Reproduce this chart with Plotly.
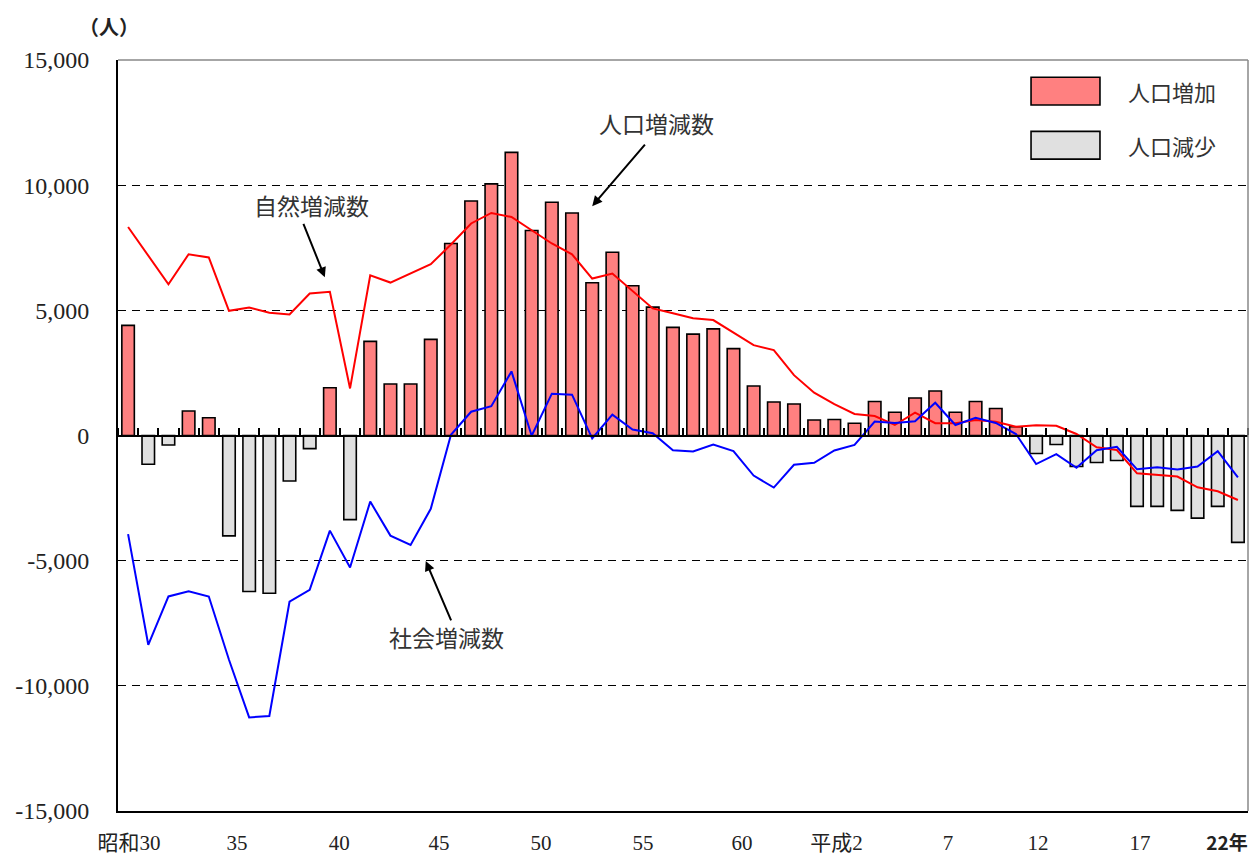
import plotly.graph_objects as go

# Years: Showa 30 (1955) .. Heisei 22 (2010), one value per year
years = list(range(1955, 2011))

pop_change = [4400, -1150, -380, 980, 710, -4010, -6230, -6300, -1815, -525,
              1910, -3360, 3760, 2055, 2055, 3840, 7670, 9370, 10050, 11310,
              8190, 9320, 8890, 6100, 7320, 5980, 5130, 4320, 4050, 4260,
              3470, 1975, 1340, 1260, 620, 640, 490, 1360, 930, 1500,
              1780, 930, 1360, 1080, 350, -720, -360, -1240, -1080, -1000,
              -2830, -2830, -2990, -3300, -2830, -4270]

natural_change = [8330, 7200, 6040, 7240, 7110, 4980, 5115, 4900, 4835, 5670,
                  5740, 1880, 6400, 6110, 6470, 6840, 7630, 8470, 8890, 8730,
                  8200, 7670, 7240, 6270, 6470, 5780, 5075, 4880, 4680, 4610,
                  4100, 3610, 3410, 2410, 1710, 1250, 860, 780, 420, 910,
                  490, 490, 620, 550, 350, 410, 390, 60, -470, -580,
                  -1510, -1590, -1640, -2070, -2230, -2575]

social_change = [-3940, -8360, -6430, -6220, -6430, -8960, -11260, -11205, -6640, -6165,
                 -3800, -5270, -2640, -4000, -4370, -2930, 30, 950, 1170, 2560,
                 -10, 1670, 1630, -120, 830, 240, 90, -590, -640, -360,
                 -620, -1600, -2080, -1170, -1090, -600, -375, 560, 500, 570,
                 1310, 420, 710, 500, 60, -1140, -745, -1290, -590, -450,
                 -1350, -1270, -1355, -1240, -625, -1670]

xtick_text = ["昭和30", "35", "40", "45", "50", "55", "60", "平成2", "7", "12", "17",
              "<span style='font-family:Noto Sans CJK JP;font-size:19px'><b>22年</b></span>"]
# label anchor positions along the category axis (as placed in the original)
xtick_pos = [0.05, 5.40, 10.46, 15.41, 20.46, 25.52, 30.43, 35.11, 40.63, 45.09, 50.15, 54.46]

ytick_vals = [-15000, -10000, -5000, 0, 5000, 10000, 15000]
ytick_text = ["-15,000", "-10,000", "-5,000", "0", "5,000", "10,000", "15,000"]

x = list(range(len(years)))
bar_colors = ["#FF8080" if v >= 0 else "#E0E0E0" for v in pop_change]

FONT = "Liberation Serif, Noto Sans CJK JP, serif"
JFONT = "Noto Sans CJK JP, sans-serif"

fig = go.Figure()
fig.add_trace(go.Bar(
    x=x, y=pop_change, width=0.62,
    marker=dict(color=bar_colors, line=dict(color="black", width=1.6)),
    name="人口増減数", showlegend=False,
))
fig.add_trace(go.Scatter(
    x=x, y=natural_change, mode="lines",
    line=dict(color="#FF0000", width=2), name="自然増減数", showlegend=False,
))
fig.add_trace(go.Scatter(
    x=x, y=social_change, mode="lines",
    line=dict(color="#0000FF", width=2), name="社会増減数", showlegend=False,
))
# invisible trace to carry the zero-line axis with boundary ticks
fig.add_trace(go.Scatter(
    x=[x[0]], y=[0], xaxis="x2", mode="markers",
    marker=dict(opacity=0), showlegend=False, hoverinfo="skip",
))

boundaries = [i - 0.5 for i in range(len(years) + 1)]

fig.update_layout(
    width=1250, height=854,
    margin=dict(l=118, r=2, t=60, b=43, autoexpand=False),
    plot_bgcolor="white", paper_bgcolor="white",
    font=dict(family=FONT, size=21, color="black"),
    xaxis=dict(
        range=[-0.5, len(years) - 0.5],
        tickmode="array", tickvals=xtick_pos, ticktext=xtick_text,
        ticks="", showgrid=False, zeroline=False, automargin=False,
        showline=True, linecolor="black", linewidth=2, mirror=False,
        ticklabelstandoff=12, ticklabeloverflow="allow",
        tickfont=dict(size=21, family=FONT, color="#222222"),
    ),
    xaxis2=dict(
        range=[-0.5, len(years) - 0.5], overlaying="x",
        anchor="free", position=0.5, side="top",
        tickmode="array", tickvals=boundaries,
        ticks="outside", ticklen=7, tickwidth=1.5, tickcolor="black",
        showticklabels=False, showgrid=False, zeroline=False,
        showline=True, linecolor="black", linewidth=2, automargin=False,
    ),
    yaxis=dict(
        range=[-15000, 15000],
        tickmode="array", tickvals=ytick_vals, ticktext=ytick_text,
        ticks="", showgrid=True, gridcolor="black", gridwidth=1,
        griddash="8px,6px", zeroline=False, automargin=False,
        showline=True, linecolor="black", linewidth=2, mirror=False,
        ticklabelstandoff=22,
        tickfont=dict(size=24, family=FONT, color="#222222"),
    ),
)

# top and right frame (thin grey)
fig.add_shape(type="line", xref="paper", yref="paper", x0=0, x1=1, y0=1, y1=1,
              line=dict(color="#888888", width=1.5))
fig.add_shape(type="line", xref="paper", yref="paper", x0=1, x1=1, y0=0, y1=1,
              line=dict(color="#888888", width=1.5))

# Unit label
fig.add_annotation(xref="paper", yref="paper", x=-0.008, y=1.045,
                   xanchor="center", yanchor="middle",
                   text="<b>（人）</b>", showarrow=False,
                   font=dict(size=20, family=JFONT, color="#222222"))

# Callout labels and arrows
ann_font = dict(size=23, family=JFONT, color="#333333")
fig.add_annotation(x=26.2, y=12470, text="人口増減数", showarrow=False, font=ann_font,
                   xanchor="center", yanchor="middle")
fig.add_annotation(x=23.0, y=9160, ax=54, ay=-63, text="", showarrow=True,
                   arrowhead=2, arrowsize=1, arrowwidth=2, arrowcolor="black")
fig.add_annotation(x=9.1, y=9200, text="自然増減数", showarrow=False, font=ann_font,
                   xanchor="center", yanchor="middle")
fig.add_annotation(x=9.75, y=6320, ax=-22, ay=-55, text="", showarrow=True,
                   arrowhead=2, arrowsize=1, arrowwidth=2, arrowcolor="black")
fig.add_annotation(x=15.8, y=-8040, text="社会増減数", showarrow=False, font=ann_font,
                   xanchor="center", yanchor="middle")
fig.add_annotation(x=14.75, y=-5010, ax=26, ay=61, text="", showarrow=True,
                   arrowhead=2, arrowsize=1, arrowwidth=2, arrowcolor="black")

# Custom legend
legend_items = [("人口増加", "#FF8080", 0.977, 0.940),
                ("人口減少", "#E0E0E0", 0.905, 0.868)]
for label, color, y1, y0 in legend_items:
    fig.add_shape(type="rect", xref="paper", yref="paper",
                  x0=0.808, x1=0.869, y0=y0, y1=y1,
                  fillcolor=color, line=dict(color="black", width=1.6))
    fig.add_annotation(xref="paper", yref="paper", x=0.933, y=(y0 + y1) / 2,
                       xanchor="center", yanchor="middle",
                       text=label, showarrow=False,
                       font=dict(size=22, family=JFONT, color="#333333"))

fig.write_html("out.html", config={"displayModeBar": False},
               post_script="document.body.style.margin='0px';")
